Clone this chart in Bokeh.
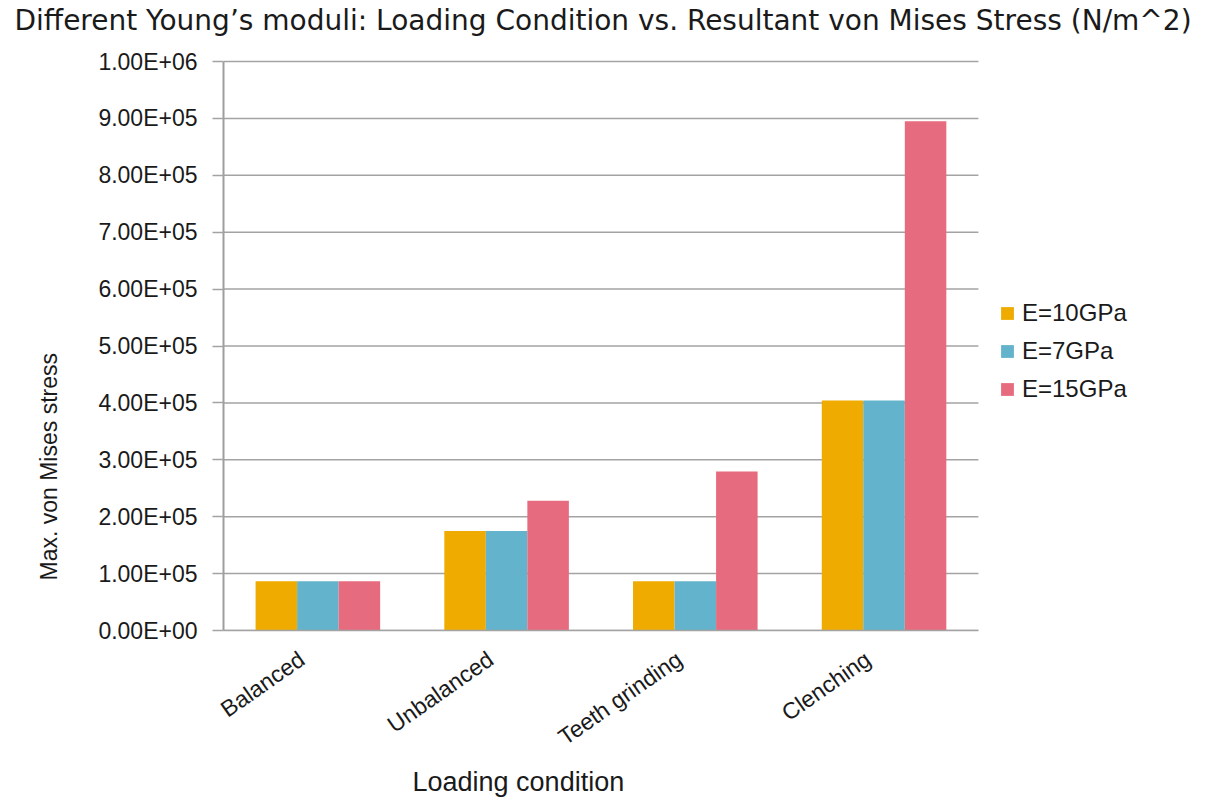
import math
from bokeh.plotting import figure
from bokeh.models import (ColumnDataSource, Range1d, FixedTicker,
                          Title, Legend, LegendItem)
from bokeh.embed import file_html
from bokeh.resources import INLINE

# ---------------- data ----------------
categories = ["Balanced", "Unbalanced", "Teeth grinding", "Clenching"]
series_names = ["E=10GPa", "E=7GPa", "E=15GPa"]
e10 = [86500, 175000, 86500, 404000]
e7 = [86500, 175000, 86500, 404000]
e15 = [86500, 228000, 279500, 895000]
y_ticks = [0, 100000, 200000, 300000, 400000, 500000, 600000, 700000, 800000, 900000, 1000000]
y_tick_labels = ["0.00E+00", "1.00E+05", "2.00E+05", "3.00E+05", "4.00E+05", "5.00E+05",
                 "6.00E+05", "7.00E+05", "8.00E+05", "9.00E+05", "1.00E+06"]
colors = ["#F0AB00", "#62B3CB", "#E76B7E"]

main_title = "Different Young\u2019s moduli: Loading Condition vs. Resultant von Mises Stress (N/m^2)"
x_title = "Loading condition"
y_title = "Max. von Mises stress"

# ---------------- layout constants ----------------
W, H = 1210, 801
LEFT, RIGHT, TOP, BOTTOM = 219, 10, 36, 171
PLOT_RIGHT = 977            # where the category area ends (px)
PLOT_TOP = 61               # where the 1.00E+06 line sits (px)
n = len(categories)
y_max = y_ticks[-1]
x_end = n * (W - RIGHT - LEFT) / (PLOT_RIGHT - LEFT)
y_end = y_max * (H - BOTTOM - TOP) / (H - BOTTOM - PLOT_TOP)

centers = [i + 0.5 for i in range(n)]
label_pos = [c - 0.085 for c in centers]   # rotated labels sit slightly left of centre
bw = 0.22
src = ColumnDataSource(dict(
    x10=[c - bw for c in centers], x7=centers, x15=[c + bw for c in centers],
    e10=e10, e7=e7, e15=e15))

p = figure(x_range=Range1d(0, x_end), y_range=Range1d(0, y_end),
           width=W, height=H, output_backend="svg", toolbar_location=None,
           min_border_left=LEFT, min_border_right=RIGHT,
           min_border_top=TOP, min_border_bottom=BOTTOM)
p.outline_line_color = None
p.background_fill_color = "white"
p.border_fill_color = "white"
p.xgrid.grid_line_color = None
p.ygrid.grid_line_color = None

# horizontal gridlines over the category area only
p.segment(x0=[0] * len(y_ticks), x1=[n] * len(y_ticks), y0=y_ticks, y1=y_ticks,
          line_color="#A3A3A3", line_width=1.5)

renderers = []
for xf, field, col in zip(["x10", "x7", "x15"], ["e10", "e7", "e15"], colors):
    r = p.vbar(x=xf, top=field, width=bw, source=src, fill_color=col, line_color=None)
    renderers.append(r)

# y axis
p.yaxis.ticker = FixedTicker(ticks=y_ticks)
p.yaxis.bounds = (0, y_max)
p.yaxis.major_label_overrides = {t: l for t, l in zip(y_ticks, y_tick_labels)}
p.yaxis.axis_line_color = "#9E9E9E"
p.yaxis.axis_line_width = 2
p.yaxis.major_tick_line_color = "#A3A3A3"
p.yaxis.major_tick_line_width = 1.5
p.yaxis.major_tick_out = 11
p.yaxis.major_tick_in = 0
p.yaxis.minor_tick_line_color = None
p.yaxis.major_label_standoff = 15
p.yaxis.major_label_text_font = "Liberation Sans"
p.yaxis.major_label_text_font_size = "23px"
p.yaxis.major_label_text_color = "#1a1a1a"

# x axis
p.xaxis.ticker = FixedTicker(ticks=label_pos)
p.xaxis.major_label_overrides = {c: name for c, name in zip(label_pos, categories)}
p.xaxis.bounds = (0, n)
p.xaxis.axis_line_color = "#A3A3A3"
p.xaxis.axis_line_width = 1.5
p.xaxis.major_tick_line_color = None
p.xaxis.minor_tick_line_color = None
p.xaxis.major_label_orientation = math.radians(35)
p.xaxis.major_label_standoff = 20
p.xaxis.major_label_text_font = "Liberation Sans"
p.xaxis.major_label_text_font_size = "23px"
p.xaxis.major_label_text_color = "#1a1a1a"

# legend (inside the extended frame, right of the bars)
items = [LegendItem(label=nm, renderers=[r]) for nm, r in zip(series_names, renderers)]
legend = Legend(items=items, location=(776, 227), orientation="vertical",
                glyph_width=16, glyph_height=16, label_height=21,
                spacing=10, label_standoff=7, padding=0, margin=0,
                border_line_color=None, background_fill_alpha=0,
                label_text_font="Liberation Sans", label_text_font_size="24px",
                label_text_color="#1a1a1a")
p.add_layout(legend, "center")

# main title
p.title.text = main_title
p.title.align = "left"
p.title.offset = -209
p.title.standoff = 0
p.title.text_font = "DejaVu Sans"
p.title.text_font_size = "28px"
p.title.text_font_style = "normal"
p.title.text_color = "#1a1a1a"

# axis titles
p.add_layout(Title(text=x_title, align="left", offset=189, standoff=3,
                   text_font="Liberation Sans", text_font_size="27px",
                   text_font_style="normal", text_color="#1a1a1a"), "below")
p.add_layout(Title(text=y_title, align="left", offset=50, standoff=67,
                   text_font="Liberation Sans", text_font_size="23px",
                   text_font_style="normal", text_color="#1a1a1a"), "left")

open("out.html", "w").write(file_html(p, INLINE))
